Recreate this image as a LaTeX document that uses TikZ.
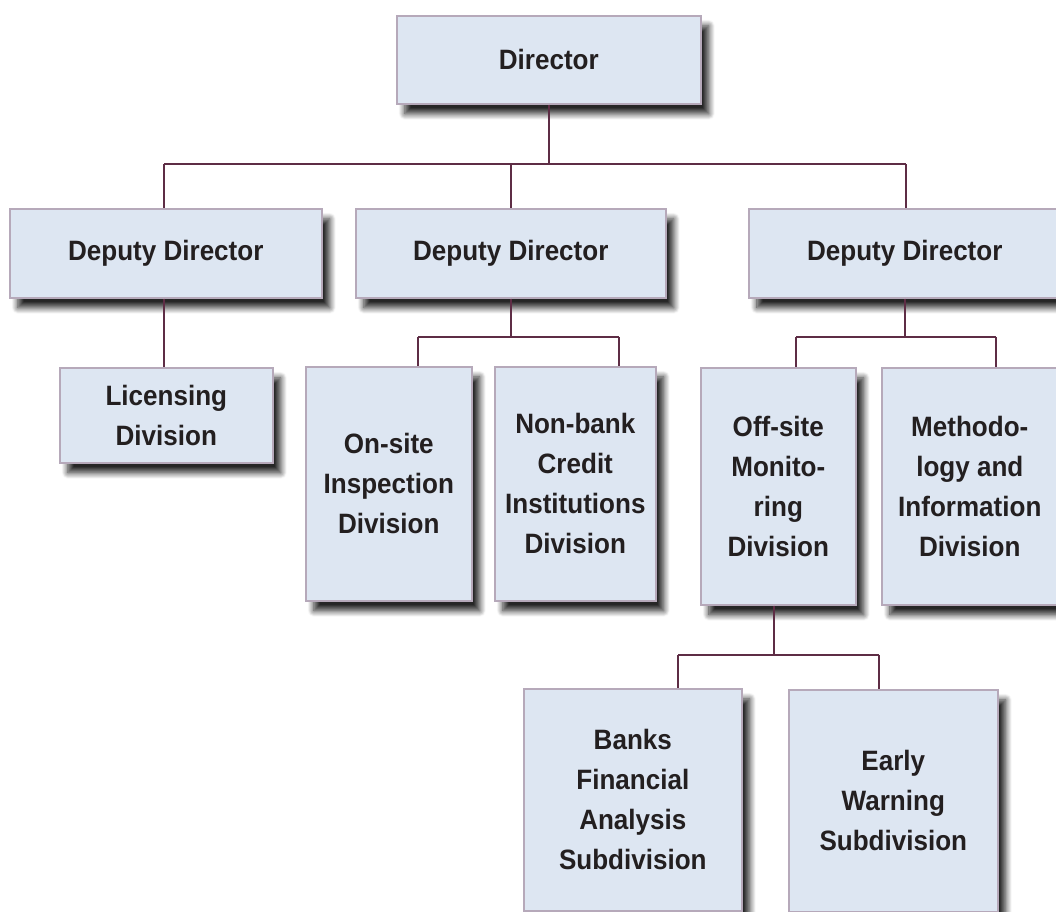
\documentclass[tikz,border=0pt]{standalone}
\usepackage{fontspec}
\setmainfont{Liberation Sans}[FakeStretch=0.93]
\usetikzlibrary{shadows.blur}
\definecolor{boxfill}{HTML}{DDE6F2}
\definecolor{boxline}{HTML}{B6A9BA}
\definecolor{conncol}{HTML}{5E2D45}
\definecolor{txt}{HTML}{231F20}
\tikzset{
  box/.style={draw=boxline, line width=1.6pt, fill=boxfill, anchor=north west,
    align=center, text=txt, inner sep=0pt,
    font=\fontsize{28}{40}\selectfont\bfseries,
    blur shadow={shadow xshift=8pt, shadow yshift=-10pt, shadow blur radius=6pt,
      shadow blur steps=10, shadow opacity=85}},
  conn/.style={draw=conncol, line width=1.8pt}
}
\begin{document}
\begin{tikzpicture}[x=1pt,y=-1pt]
\useasboundingbox (0,0) rectangle (1056,911);
\coordinate (busL) at (164,164);
\coordinate (busR) at (906,164);
\coordinate (busD) at (549,164);
\coordinate (busM) at (511,164);
\coordinate (b2L) at (418,337);
\coordinate (b2R) at (619,337);
\coordinate (b2D) at (511,337);
\coordinate (b3L) at (796,337);
\coordinate (b3R) at (996,337);
\coordinate (b3D) at (905,337);
\coordinate (b4L) at (678,655);
\coordinate (b4R) at (879,655);
\coordinate (b4D) at (774,655);
% nodes
\node[box, minimum width=304pt, minimum height=88pt] (dir) at (396,15) {Director};
\node[box, minimum width=312pt, minimum height=89pt] (dep1) at (9,208) {Deputy Director};
\node[box, minimum width=310pt, minimum height=89pt] (dep2) at (355,208) {Deputy Director};
\node[box, minimum width=312pt, minimum height=89pt] (dep3) at (748,208) {Deputy Director};
\node[box, minimum width=213pt, minimum height=95pt] (lic) at (59,367) {Licensing\\Division};
\node[box, minimum width=166pt, minimum height=234pt] (ons) at (305,366) {On-site\\Inspection\\Division};
\node[box, minimum width=161pt, minimum height=234pt] (nbk) at (494,366) {Non-bank\\Credit\\Institutions\\Division};
\node[box, minimum width=155pt, minimum height=237pt] (off) at (700,367) {Off-site\\Monito-\\ring\\Division};
\node[box, minimum width=176pt, minimum height=237pt] (met) at (881,367) {Methodo-\\logy and\\Information\\Division};
\node[box, minimum width=218pt, minimum height=222pt] (bfa) at (523,688) {Banks\\Financial\\Analysis\\Subdivision};
\node[box, minimum width=209pt, minimum height=222pt] (ews) at (788,689) {Early\\Warning\\Subdivision};
% connector lines
\draw[conn] (busD |- dir.south) -- (busD);
\draw[conn] (busL) -- (busR);
\draw[conn] (busL) -- (busL |- dep1.north);
\draw[conn] (busM) -- (busM |- dep2.north);
\draw[conn] (busR) -- (busR |- dep3.north);
\draw[conn] (busL |- dep1.south) -- (busL |- lic.north);
\draw[conn] (b2D |- dep2.south) -- (b2D);
\draw[conn] (b2L) -- (b2R);
\draw[conn] (b2L) -- (b2L |- ons.north);
\draw[conn] (b2R) -- (b2R |- nbk.north);
\draw[conn] (b3D |- dep3.south) -- (b3D);
\draw[conn] (b3L) -- (b3R);
\draw[conn] (b3L) -- (b3L |- off.north);
\draw[conn] (b3R) -- (b3R |- met.north);
\draw[conn] (b4D |- off.south) -- (b4D);
\draw[conn] (b4L) -- (b4R);
\draw[conn] (b4L) -- (b4L |- bfa.north);
\draw[conn] (b4R) -- (b4R |- ews.north);
\end{tikzpicture}
\end{document}
